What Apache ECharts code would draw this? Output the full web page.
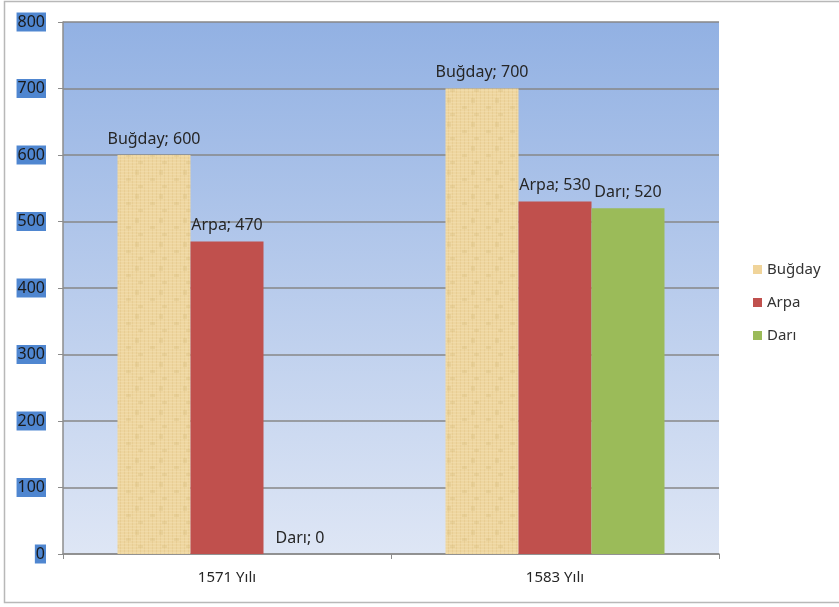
<!DOCTYPE html>
<html><head><meta charset="utf-8">
<script src="https://cdn.jsdelivr.net/npm/echarts@6/dist/echarts.min.js"></script>
<style>html,body{margin:0;padding:0;background:#fff}#c{width:839px;height:607px}</style>
</head><body><div id="c"></div>
<script>
const categories = ['1571 Yılı', '1583 Yılı'];
const seriesNames = ['Buğday', 'Arpa', 'Darı'];
const bugday = [600, 700];
const arpa = [470, 530];
const dari = [0, 520];
const yTicks = [0, 100, 200, 300, 400, 500, 600, 700, 800];

// papyrus-like texture
const cv = document.createElement('canvas');
cv.width = 24; cv.height = 24;
const g = cv.getContext('2d');
g.fillStyle = '#eed6a0'; g.fillRect(0, 0, 24, 24);
g.globalAlpha = 0.3;
g.strokeStyle = '#d9bb78';
for (let i = 0; i < 24; i += 4) { g.beginPath(); g.moveTo(i + 0.5, 0); g.lineTo(i + 0.5, 24); g.stroke(); }
g.strokeStyle = '#f7e8c0';
for (let j = 0; j < 24; j += 3) { g.beginPath(); g.moveTo(0, j + 0.5); g.lineTo(24, j + 0.5); g.stroke(); }
g.globalAlpha = 0.2; g.fillStyle = '#cfae68';
g.fillRect(6, 10, 5, 3); g.fillRect(15, 2, 4, 5); g.fillRect(18, 17, 5, 3);

const colors = [{ image: cv, repeat: 'repeat' }, '#c0504d', '#9bbb59'];
const legendColors = ['#f0d49a', '#c0504d', '#9bbb59'];
const dataArr = [bugday, arpa, dari];
const font = '"Noto Sans", "Open Sans", sans-serif';

const chart = echarts.init(document.getElementById('c'));
chart.setOption({
  animation: false,
  backgroundColor: '#fff',
  graphic: [{ type: 'rect', shape: { x: 4.5, y: 1.5, width: 840, height: 601 }, style: { fill: 'none', stroke: '#b8b8b8', lineWidth: 1.5 }, silent: true }],
  grid: {
    left: 63, right: 120, top: 22, bottom: 53, show: true, borderWidth: 0,
    backgroundColor: { type: 'linear', x: 0, y: 0, x2: 0, y2: 1, colorStops: [{ offset: 0, color: '#92b1e3' }, { offset: 1, color: '#dee6f5' }] }
  },
  legend: {
    orient: 'vertical', left: 748, top: 257, itemWidth: 9, itemHeight: 9, itemGap: 18,
    textStyle: { fontFamily: font, fontSize: 15, color: '#333' },
    data: seriesNames.map((n, i) => ({ name: n, icon: 'rect', itemStyle: { color: legendColors[i] } }))
  },
  xAxis: {
    type: 'category', data: categories,
    axisLine: { lineStyle: { color: '#8c8c8c', width: 1.5 } },
    axisTick: { show: true, length: 5, lineStyle: { color: '#8c8c8c' } },
    axisLabel: { fontFamily: font, fontSize: 15, color: '#262626', margin: 16 }
  },
  yAxis: {
    type: 'value', min: 0, max: 800, interval: 100,
    axisLine: { show: true, lineStyle: { color: '#8c8c8c', width: 1.5 } },
    axisTick: { show: true, length: 5, lineStyle: { color: '#8c8c8c' } },
    splitLine: { lineStyle: { color: '#878787', width: 1.5 } },
    axisLabel: { fontFamily: font, fontSize: 16, color: '#1a1a1a', margin: 17, backgroundColor: '#4f86d0', padding: [2, 1, 1, 1],
      formatter: v => yTicks.includes(v) ? String(v) : '' }
  },
  series: seriesNames.map((n, i) => ({
    name: n, type: 'bar', data: dataArr[i], barWidth: 73, barGap: '0%',
    itemStyle: { color: colors[i] },
    label: { show: true, position: 'top', distance: 8, formatter: '{a}; {c}', fontFamily: font, fontSize: 16, color: '#262626' }
  }))
});
</script></body></html>
